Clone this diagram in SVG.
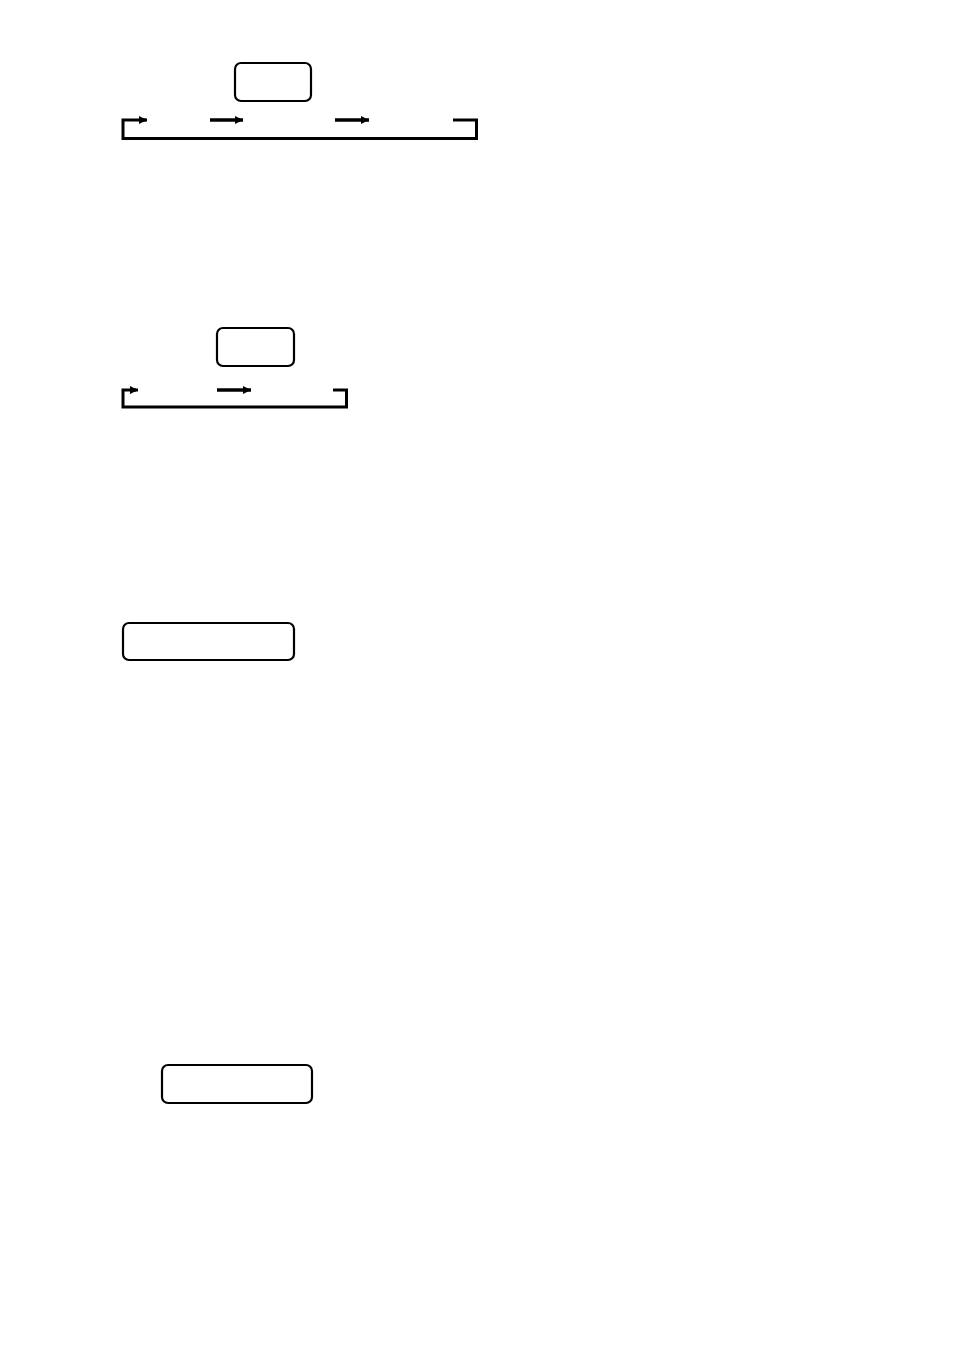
<svg xmlns="http://www.w3.org/2000/svg" width="954" height="1350" viewBox="0 0 954 1350">
<style>
.box{fill:#fff;stroke:#000;stroke-width:2.2}
.br{fill:none;stroke:#000;stroke-width:3;stroke-linejoin:miter}
.ar{fill:none;stroke:#000;stroke-width:3.5}
</style>
<defs>
<marker id="ah" markerUnits="userSpaceOnUse" markerWidth="10" markerHeight="8" refX="8" refY="4" orient="auto">
<path d="M0,0 L8,4 L0,8 Z" fill="#000"/>
</marker>
</defs>
<rect width="954" height="1350" fill="#fff"/>
<g id="node1"><rect class="box" x="235" y="63" width="76" height="38" rx="6"/></g>
<g id="node2"><rect class="box" x="217" y="328" width="77" height="38" rx="6"/></g>
<g id="node3"><rect class="box" x="123" y="623" width="171" height="37" rx="6"/></g>
<g id="node4"><rect class="box" x="162" y="1065" width="150" height="38" rx="6"/></g>
<g id="connectors">
<path class="br" d="M146,120 H123 V138.5 H476.5 V120 H453" marker-start="none"/>
<line class="br" x1="140" y1="120" x2="147" y2="120" marker-end="url(#ah)"/>
<line class="ar" x1="210" y1="120" x2="243" y2="120" marker-end="url(#ah)"/>
<line class="ar" x1="335" y1="120" x2="369" y2="120" marker-end="url(#ah)"/>
<path class="br" d="M136,390 H123 V407 H346.5 V390 H333"/>
<line class="br" x1="130" y1="390" x2="138" y2="390" marker-end="url(#ah)"/>
<line class="ar" x1="217" y1="390" x2="251" y2="390" marker-end="url(#ah)"/>
</g>
</svg>
